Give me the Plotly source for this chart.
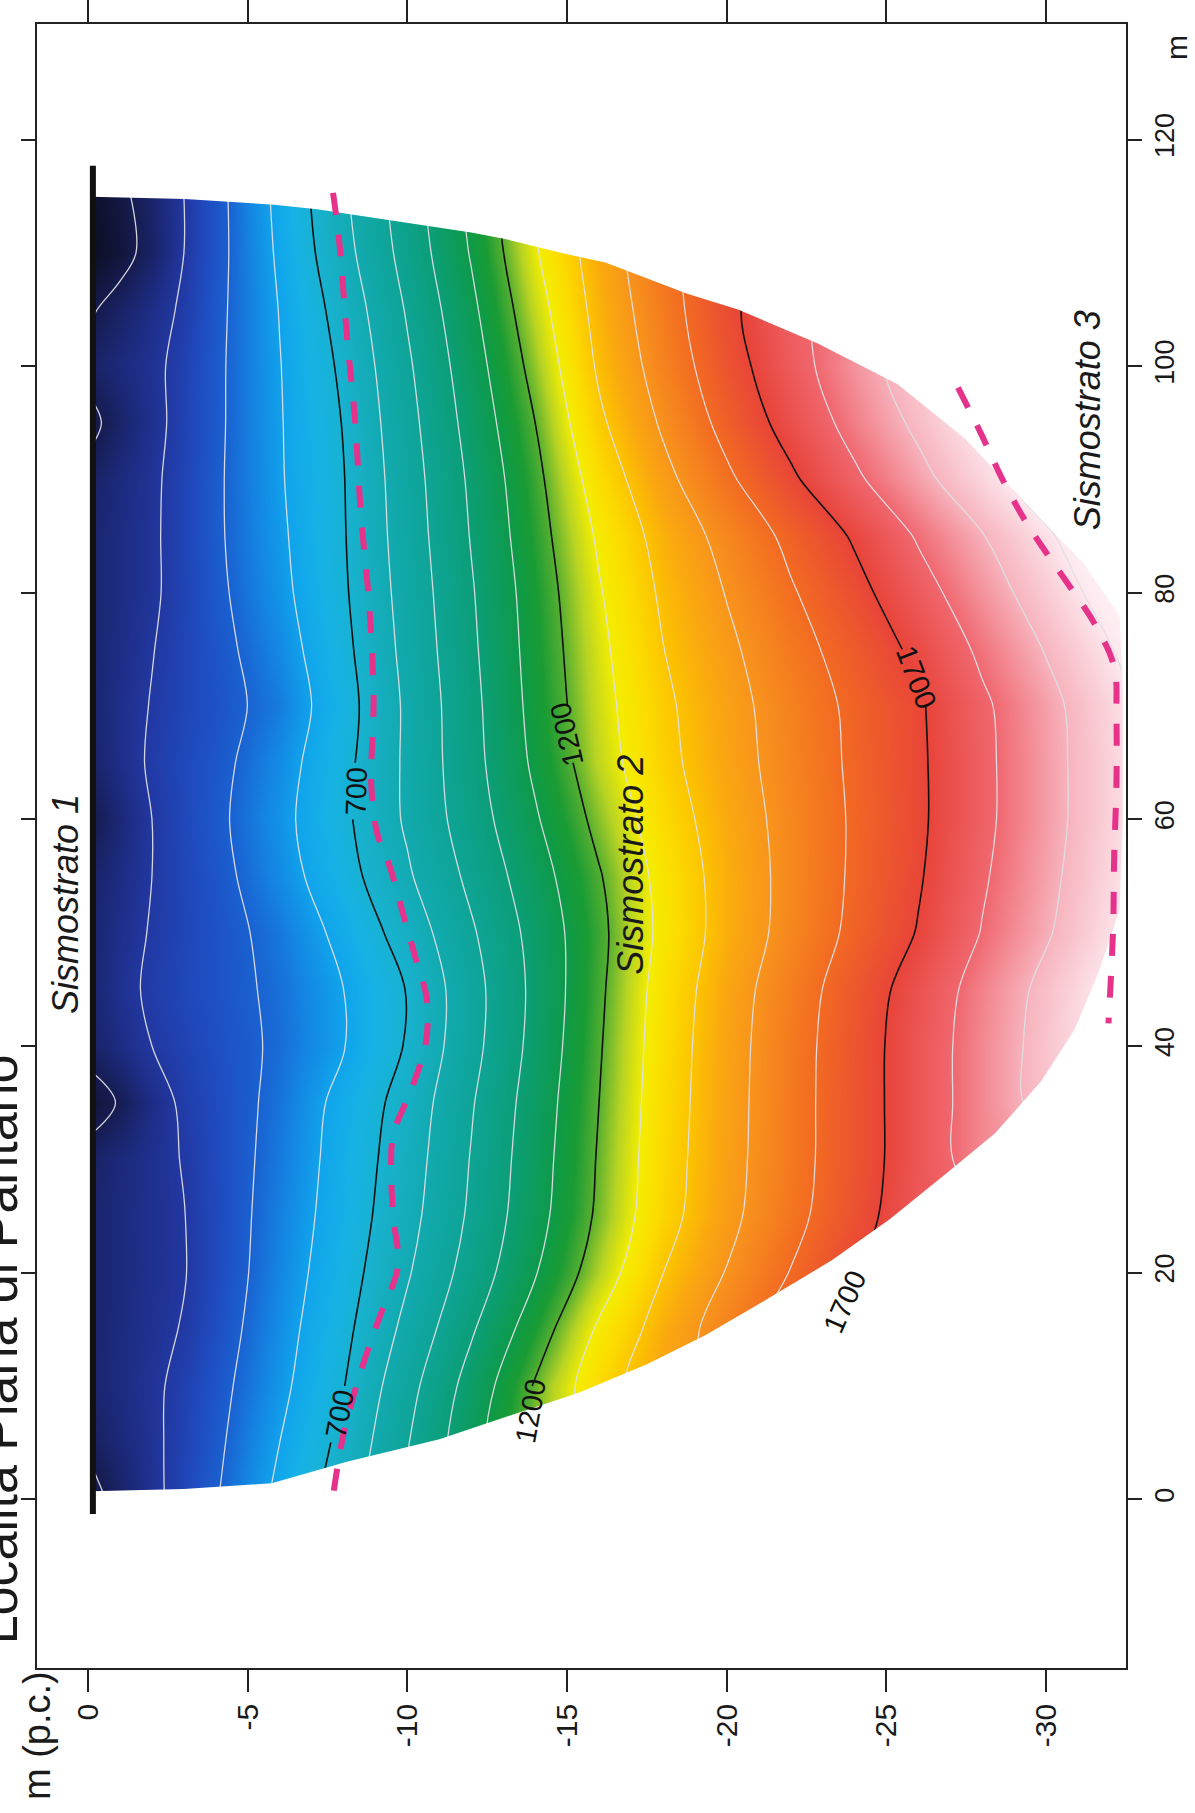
import plotly.graph_objects as go

# ---------------- data ----------------
# grid: depth rows (m, p.c.) x distance columns (m); values = velocity (m/s)
DEPTH_ROWS = [0, -1, -2, -3, -4, -6, -8, -10, -12, -14, -16, -18, -20, -22, -24, -26, -28, -30, -32, -34]
DIST_COLS = [0, 5, 10, 15, 20, 25, 30, 35, 40, 45, 50, 55, 60, 65, 70, 75, 80, 85, 90, 95, 100, 105, 110, 115]
N = None
VELOCITY = [
    [270, 310, 330, 330, 330, 330, 320, 270, 320, 330, 330, 320, 290, 320, 330, 330, 330, 330, 320, 280, 320, 290, 240, 250],
    [324, 347, 357, 354, 352, 353, 348, 305, 360, 377, 369, 360, 345, 367, 368, 363, 359, 359, 353, 328, 351, 325, 275, 285],
    [378, 383, 385, 378, 374, 375, 375, 364, 400, 413, 406, 400, 400, 410, 404, 397, 388, 388, 386, 376, 382, 365, 325, 330],
    [435, 429, 422, 405, 396, 398, 404, 414, 428, 438, 434, 436, 440, 441, 434, 433, 430, 432, 431, 428, 424, 413, 400, 400],
    [494, 482, 471, 455, 444, 444, 445, 448, 456, 463, 463, 471, 480, 473, 463, 470, 480, 486, 486, 483, 482, 477, 471, 471],
    [622, 600, 578, 565, 553, 544, 535, 526, 516, 520, 532, 560, 573, 561, 538, 557, 576, 585, 592, 594, 597, 603, 614, 623],
    [751, 725, 697, 676, 658, 645, 638, 629, 596, 600, 626, 663, 681, 674, 662, 676, 688, 694, 697, 704, 717, 738, 768, 785],
    [920, 895, 867, 826, 791, 767, 753, 738, 708, 704, 743, 788, 814, 817, 817, 828, 838, 848, 856, 869, 886, 909, 937, 954],
    [N, 1064, 1038, 989, 942, 916, 905, 892, 869, 864, 888, 923, 952, 967, 973, 983, 992, 1005, 1016, 1035, 1056, 1080, 1107, 1124],
    [N, 1230, 1208, 1151, 1094, 1066, 1056, 1046, 1031, 1024, 1033, 1058, 1090, 1117, 1130, 1138, 1146, 1161, 1176, 1200, 1231, 1261, 1291, 1310],
    [N, N, 1355, 1313, 1249, 1216, 1208, 1200, 1192, 1184, 1178, 1193, 1226, 1257, 1269, 1279, 1293, 1313, 1345, 1384, 1413, 1432, 1449, 1462],
    [N, N, 1466, 1441, 1399, 1365, 1357, 1351, 1346, 1338, 1323, 1330, 1351, 1373, 1382, 1398, 1414, 1435, 1474, 1512, 1541, 1560, 1574, N],
    [N, N, N, 1544, 1504, 1476, 1469, 1466, 1463, 1456, 1439, 1439, 1449, 1461, 1467, 1482, 1504, 1531, 1584, 1629, 1660, 1677, N, N],
    [N, N, N, 1640, 1603, 1573, 1565, 1564, 1562, 1554, 1532, 1528, 1531, 1539, 1545, 1564, 1591, 1622, 1685, 1735, 1765, 1780, N, N],
    [N, N, N, N, 1695, 1664, 1656, 1656, 1655, 1647, 1621, 1613, 1611, 1615, 1619, 1641, 1672, 1710, 1785, 1830, 1857, N, N, N],
    [N, N, N, N, N, 1760, 1750, 1750, 1750, 1740, 1705, 1692, 1685, 1686, 1689, 1720, 1765, 1809, 1874, 1918, 1945, N, N, N],
    [N, N, N, N, N, N, 1843, 1843, 1843, 1835, 1804, 1790, 1780, 1780, 1785, 1817, 1857, 1896, 1964, 2010, N, N, N, N],
    [N, N, N, N, N, N, N, 1932, 1932, 1923, 1891, 1878, 1870, 1870, 1874, 1905, 1945, 1986, 2060, N, N, N, N, N],
    [N, N, N, N, N, N, N, N, 2025, 2015, 1982, 1968, 1959, 1959, 1964, 1995, 2040, 2085, N, N, N, N, N, N],
    [N, N, N, N, N, N, N, N, N, N, 2080, 2065, 2055, 2055, 2060, 2095, 2130, N, N, N, N, N, N, N],
]

# coverage boundary of the tomography section (depth, distance)
BOUND_DEPTH = [-0.1, -3.04, -5.83, -7.17, -8.65, -10.3, -12.0, -13.1, -14.8, -16.2, -17.35, -18.76, -20.35,
               -22.85, -25.35, -27.5, -29.5, -31.2, -32.3, -32.4, -32.4, -32.3, -31.66, -30.9, -29.85, -28.4,
               -26.9, -25.1, -23.3, -21.2, -19.34, -17.5, -15.36, -13.54, -11.0, -8.1, -5.75, -3.0, -0.1]
BOUND_DIST = [114.96, 114.75, 114.25, 113.84, 113.2, 112.5, 111.8, 111.2, 110.0, 109.15, 107.9, 106.4, 105.0,
              102.0, 98.4, 93.5, 87.5, 82.5, 78.0, 72.0, 60.0, 52.0, 46.6, 41.5, 36.9, 32.3,
              28.8, 24.7, 21.1, 17.55, 14.5, 11.9, 9.4, 7.66, 5.3, 3.3, 1.4, 0.9, 0.7]

# ground surface / geophone line
SURFACE_DEPTH = [-0.15, -0.15]
SURFACE_DIST = [-1.3, 117.7]

# seismo-layer boundaries (pink dashed)
LAYER12_DEPTH = [-7.67, -7.86, -8.11, -8.36, -8.54, -8.80, -8.94, -8.87, -9.05, -9.45, -9.88, -10.28, -10.61,
                 -10.57, -10.14, -9.56, -9.49, -9.56, -9.70, -9.20, -8.80, -8.36, -8.00, -7.67]
LAYER12_DIST = [115.3, 111.1, 102.5, 95.2, 87.0, 79.0, 70.8, 62.9, 58.8, 55.8, 51.5, 47.5, 44.1,
                40.2, 36.3, 32.2, 28.8, 24.9, 20.5, 16.6, 13.5, 9.6, 5.8, 0.3]
LAYER23_DEPTH = [-27.24, -27.96, -28.58, -29.27, -29.95, -30.68, -31.51, -32.13, -32.2, -32.2, -32.13, -32.1, -32.02, -31.95]
LAYER23_DIST = [98.1, 94.05, 90.3, 86.7, 83.75, 80.8, 77.3, 73.45, 69.1, 63.0, 56.8, 50.7, 45.6, 42.0]

# labelled (black) isolines, with the column index ranges in which they are drawn
BLACK_LEVELS = [700, 1200, 1700]
BLACK_SEGMENTS = {700: [(0, 1), (2, 12), (13, 23)], 1200: [(2, 13), (14, 23)], 1700: [(4, 14), (15, 23)]}
# isoline labels: (text, depth, distance, angle)
ISO_LABELS = [("700", -7.88, 7.5, -79), ("700", -8.4, 62.5, -88),
              ("1200", -13.85, 7.8, -80), ("1200", -15.0, 67.5, -103),
              ("1700", -23.7, 17.5, -66), ("1700", -25.95, 72.5, 69)]
LAYER_LABELS = [("Sismostrato 1", 0.7, 52.5), ("Sismostrato 2", -17.0, 56.0), ("Sismostrato 3", -31.3, 95.2)]

DEPTH_TICKS = [0, -5, -10, -15, -20, -25, -30]
DEPTH_TICK_TEXT = ["0", "-5", "-10", "-15", "-20", "-25", "-30"]
DIST_TICKS = [0, 20, 40, 60, 80, 100, 120]

# ---------------- styling ----------------
ZMIN, ZMAX = 250, 2100
VEL_STOPS = [250, 300, 350, 400, 450, 500, 550, 600, 650, 700, 750, 800, 900, 1000, 1100, 1150, 1200, 1250,
             1300, 1350, 1400, 1450, 1500, 1600, 1700, 1800, 1900, 2000, 2100]
VEL_COLORS = ['#0d1028', '#161c50', '#1c2a7c', '#2238a2', '#1f4cc0', '#1a62d2', '#1486e2', '#10a4ec', '#16b2e6',
              '#18b2d2', '#16aec0', '#12aab0', '#0ea496', '#0c9e78', '#0e9a4a', '#1a9c34', '#58b030', '#b8d424',
              '#f4ee00', '#fcdc00', '#fcc400', '#faa810', '#f8941c', '#f26a22', '#e8443a', '#f06870', '#f7b4be',
              '#fde8ee', '#ffffff']
COLORSCALE = [[(v - ZMIN) / (ZMAX - ZMIN), c] for v, c in zip(VEL_STOPS, VEL_COLORS)]
FONT = "Liberation Sans, Arial, Helvetica, sans-serif"
PINK = '#e5338c'

X0, X1 = 1.6, -32.5     # depth axis range
Y0, Y1 = -14.9, 130.2   # distance axis range

fig = go.Figure()

fig.add_trace(go.Heatmap(
    x=DEPTH_ROWS, y=DIST_COLS, z=VELOCITY, transpose=True, zsmooth='best', connectgaps=True,
    colorscale=COLORSCALE, zmin=ZMIN, zmax=ZMAX, showscale=False, hoverinfo='skip'))

# thin grey isolines (every 100 m/s, excluding labelled ones)
for start, end in [(300, 600), (800, 1100), (1300, 1600), (1800, 2000)]:
    fig.add_trace(go.Contour(
        x=DEPTH_ROWS, y=DIST_COLS, z=VELOCITY, transpose=True, connectgaps=True,
        autocontour=False, contours=dict(start=start, end=end, size=100, coloring='none'),
        line=dict(color='rgba(222,222,226,0.95)', width=1.3, smoothing=1),
        showscale=False, hoverinfo='skip'))

# black labelled isolines, drawn in pieces so labels sit in gaps
for lev in BLACK_LEVELS:
    for i0, i1 in BLACK_SEGMENTS[lev]:
        fig.add_trace(go.Contour(
            x=DEPTH_ROWS, y=DIST_COLS[i0:i1 + 1], z=[row[i0:i1 + 1] for row in VELOCITY],
            transpose=True, connectgaps=True, autocontour=False,
            contours=dict(start=lev, end=lev, size=100, coloring='none'),
            line=dict(color='#111111', width=1.6, smoothing=1),
            showscale=False, hoverinfo='skip'))

# white mask outside the covered section
mask_x = [2, -0.1] + BOUND_DEPTH + [-0.1, 2, 2, -40, -40, 2, 2]
mask_y = [BOUND_DIST[0], BOUND_DIST[0]] + BOUND_DIST + [BOUND_DIST[0], BOUND_DIST[0], -20, -20, 140, 140, BOUND_DIST[0]]
fig.add_trace(go.Scatter(x=mask_x, y=mask_y, mode='lines', fill='toself', fillcolor='white',
                         line=dict(width=0, color='white'), hoverinfo='skip'))

fig.add_trace(go.Scatter(x=SURFACE_DEPTH, y=SURFACE_DIST, mode='lines',
                         line=dict(color='#111111', width=6), hoverinfo='skip'))

for xs, ys in [(LAYER12_DEPTH, LAYER12_DIST), (LAYER23_DEPTH, LAYER23_DIST)]:
    fig.add_trace(go.Scatter(x=xs, y=ys, mode='lines', line=dict(color=PINK, width=6, dash='22px,20px', shape='spline'),
                             hoverinfo='skip'))

annotations = []
for txt, x, y, ang in ISO_LABELS:
    annotations.append(dict(x=x, y=y, xref='x', yref='y', text=txt, showarrow=False, textangle=ang,
                            font=dict(size=29, color='#111111', family=FONT)))
for txt, x, y in LAYER_LABELS:
    annotations.append(dict(x=x, y=y, xref='x', yref='y', text='<i>' + txt + '</i>', showarrow=False,
                            textangle=-90, font=dict(size=36, color='#1a1a1a', family=FONT)))

annotations += [
    dict(x=-0.0062, y=0.194, xref='paper', yref='paper', xanchor='right', yanchor='middle',
         text='Località Piana di Pantano', showarrow=False, textangle=-90,
         font=dict(size=52, color='#1a1a1a', family=FONT)),
    dict(x=0.0, y=-0.0414, xref='paper', yref='paper', xanchor='center', yanchor='middle',
         text='m (p.c.)', showarrow=False, textangle=-90, font=dict(size=38, color='#1a1a1a', family=FONT)),
    dict(x=1.0459, y=0.986, xref='paper', yref='paper', xanchor='center', yanchor='middle',
         text='m', showarrow=False, textangle=-90, font=dict(size=30, color='#1a1a1a', family=FONT)),
]

axis_common = dict(ticks='outside', tickwidth=1.5, tickcolor='#222222', showline=True, linecolor='#222222',
                   linewidth=1.8, mirror='ticks', showgrid=False, zeroline=False, automargin=False)

fig.update_layout(
    width=1195, height=1813,
    margin=dict(l=37, r=69, t=24, b=145, autoexpand=False),
    paper_bgcolor='white', plot_bgcolor='white', showlegend=False,
    font=dict(family=FONT, color='#1a1a1a'),
    xaxis=dict(range=[X0, X1], tickmode='array', tickvals=DEPTH_TICKS, ticktext=DEPTH_TICK_TEXT,
               tickangle=-90, ticklen=22, tickfont=dict(size=30), **axis_common),
    yaxis=dict(range=[Y0, Y1], side='right', tickmode='array', tickvals=DIST_TICKS,
               tickangle=-90, ticklen=14, tickfont=dict(size=27), **axis_common),
    annotations=annotations,
)

fig.write_html("out.html", config={'displayModeBar': False},
               post_script="document.body.style.margin='0';")
